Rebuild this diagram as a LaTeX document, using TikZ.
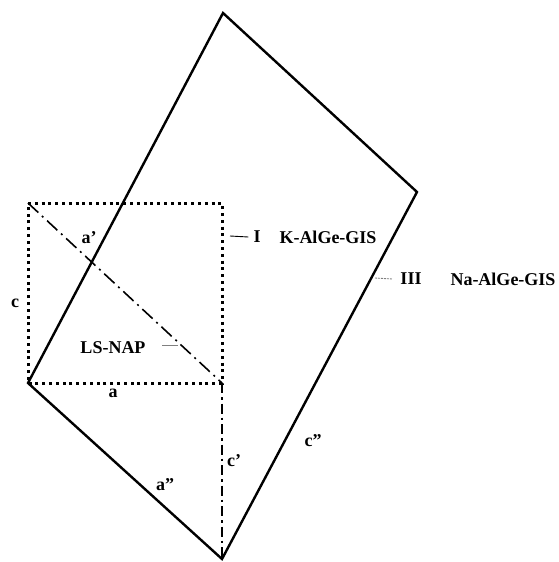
\documentclass[tikz,border=0pt]{standalone}
\usepackage{fontspec}
\setmainfont{Liberation Serif}
\usetikzlibrary{positioning}

\begin{document}
\begin{tikzpicture}[x=1pt,y=-1pt,
    lbl/.style={font=\fontsize{18}{20}\selectfont\bfseries, inner sep=0pt},
    cellIII/.style={line width=2.4pt, line join=miter},
    cellI/.style={line width=3pt, dash pattern=on 3pt off 3.8pt},
    diagcell/.style={line width=1.6pt, dash pattern=on 14pt off 5pt on 2pt off 5pt},
    vertcell/.style={line width=2.8pt, dash pattern=on 10pt off 4pt on 2.5pt off 4pt},
    leader/.style={line width=0.9pt}]
\useasboundingbox (0,0) rectangle (558,562);

\coordinate (L) at (28,383);
\coordinate (T) at (223,13);
\coordinate (R) at (417,192);
\coordinate (B) at (222,559);
\coordinate (S1) at (28,203);
\coordinate (S2) at (222,203);
\coordinate (S3) at (222,383);

\draw[cellIII] (L) -- (T) -- (R) -- (B) -- cycle;
\draw[cellI] (S1) -- (S2) -- (S3) -- (L) -- cycle;
\draw[diagcell] (S1) -- (S3);
\draw[vertcell] (S3) -- (B);

\node[lbl] (c) at (15,303) {c};
\node[lbl] (a) at (113,393) {a};
\node[lbl] (a1) at (89,238) {a'};
\node[lbl] (lsnap) at (113,348) {LS-NAP};
\node[lbl] (cellnum1) at (257,237) {I};
\node[lbl] (kgis) at (328,237) {K-AlGe-GIS};
\node[lbl] (cellnum3) at (411,279) {III};
\node[lbl] (nagis) at (503,279) {Na-AlGe-GIS};
\node[lbl] (c1) at (234,461) {c'};
\node[lbl] (a2) at (165,485) {a''};
\node[lbl] (c2) at (313,441) {c''};

\coordinate (lead1) at (230,236);
\coordinate (lead3) at (375,278);
\coordinate (leadls) at (178,345);
\draw[leader] (lead1) -- ([xshift=-5pt]cellnum1.west);
\draw[leader, gray, dash pattern=on 2pt off 1pt] (lead3) -- ([xshift=-8pt]cellnum3.west);
\draw[leader, gray] (leadls) -- ++(-16,0);
\end{tikzpicture}
\end{document}
